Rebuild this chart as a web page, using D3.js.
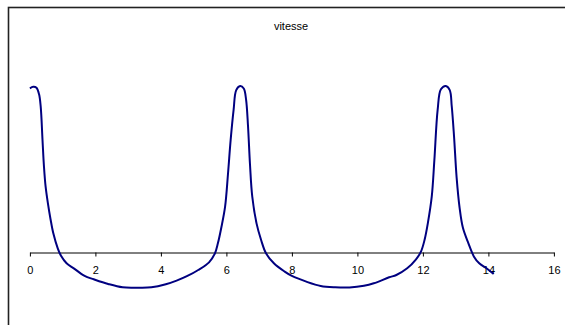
<!DOCTYPE html>
<html>
<head>
<meta charset="utf-8">
<script src="https://cdn.jsdelivr.net/npm/d3@7"></script>
<style>
  html, body { margin: 0; padding: 0; background: #fff; }
  svg { display: block; }
</style>
</head>
<body>
<svg id="chart" width="565" height="325"></svg>
<script>
// Time samples (s) and velocity readings
const temps = [
  0, 0.1, 0.2, 0.28, 0.33, 0.385, 0.43, 0.48, 0.55, 0.63, 0.715, 0.85, 0.95,
  1.12, 1.34, 1.67, 1.95, 2.39, 2.83, 3.27, 3.71, 4.15, 4.48, 4.81, 5.14, 5.47,
  5.65, 5.74, 5.85, 5.96, 6.05, 6.13, 6.22, 6.3, 6.42, 6.53, 6.6, 6.66, 6.72,
  6.79, 6.92, 7.06, 7.21, 7.45, 7.78, 8.0, 8.44, 8.88, 9.32, 9.76, 10.2, 10.5,
  10.97, 11.19, 11.52, 11.79, 11.94, 12.05, 12.15, 12.27, 12.35, 12.45, 12.55,
  12.7, 12.82, 12.88, 12.95, 13.03, 13.12, 13.22, 13.39, 13.56, 13.72, 13.94, 14.16
];
const vitesse = [
  0.986, 0.995, 0.99, 0.95, 0.876, 0.676, 0.515, 0.395, 0.295, 0.2, 0.115, 0.025, -0.02,
  -0.065, -0.095, -0.141, -0.161, -0.189, -0.209, -0.211, -0.209, -0.191, -0.169, -0.141, -0.105, -0.059,
  -0.005, 0.055, 0.155, 0.275, 0.476, 0.676, 0.856, 0.975, 1.0, 0.985, 0.92, 0.76, 0.53,
  0.335, 0.175, 0.075, -0.005, -0.065, -0.115, -0.141, -0.175, -0.201, -0.209, -0.21, -0.2, -0.185,
  -0.149, -0.135, -0.095, -0.041, 0.005, 0.075, 0.175, 0.335, 0.555, 0.856, 0.98,
  1.0, 0.975, 0.88, 0.70, 0.45, 0.27, 0.15, 0.055, -0.025, -0.065, -0.095, -0.129
];
const xTicks = [0, 2, 4, 6, 8, 10, 12, 14, 16];
const titre = "vitesse";

const svg = d3.select("#chart");

// Chart frame (extends past the window on the right and bottom)
svg.append("rect")
  .attr("x", 8.5).attr("y", 7.5)
  .attr("width", 600).attr("height", 400)
  .attr("fill", "#fff")
  .attr("stroke", "#222")
  .attr("stroke-width", 1.6);

const x = d3.scaleLinear().domain([0, 16]).range([29.9, 553.9]);
const y = d3.scaleLinear().domain([0, 1]).range([252.5, 86]);

// Horizontal axis through v = 0
const axis = d3.axisBottom(x)
  .tickValues(xTicks)
  .tickSize(4)
  .tickSizeOuter(0)
  .tickPadding(9.5)
  .tickFormat(d3.format("d"));

const gx = svg.append("g")
  .attr("transform", `translate(0,${y(0)})`)
  .call(axis);
gx.select(".domain").attr("stroke", "#000").attr("stroke-width", 1);
gx.selectAll(".tick line").attr("stroke", "#000");
gx.selectAll(".tick text")
  .attr("fill", "#000")
  .style("font-family", "'Liberation Sans', Arial, sans-serif")
  .style("font-size", "11px");

// Velocity curve
const pts = temps.map((t, i) => [t, vitesse[i]]);
const line = d3.line()
  .x(d => x(d[0]))
  .y(d => y(d[1]))
  .curve(d3.curveCatmullRom.alpha(0.5));

svg.append("path")
  .datum(pts)
  .attr("d", line)
  .attr("fill", "none")
  .attr("stroke", "#000080")
  .attr("stroke-width", 2)
  .attr("stroke-linejoin", "round");

// Title
svg.append("text")
  .attr("x", 291)
  .attr("y", 30)
  .attr("text-anchor", "middle")
  .style("font-family", "'Liberation Sans', Arial, sans-serif")
  .style("font-size", "11px")
  .attr("fill", "#000")
  .text(titre);
</script>
</body>
</html>
